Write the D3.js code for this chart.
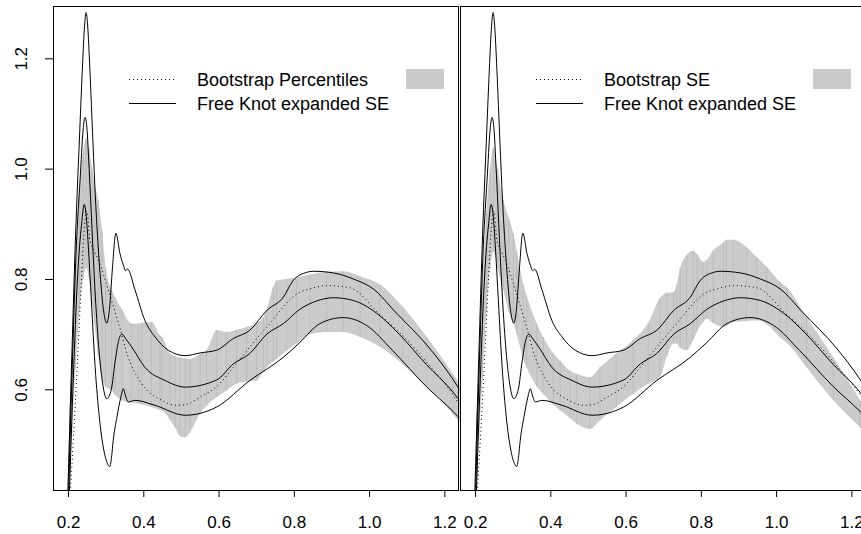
<!DOCTYPE html>
<html>
<head>
<meta charset="utf-8">
<script src="https://cdn.jsdelivr.net/npm/d3@7"></script>
<style>
  body { margin: 0; background: #fff; }
  svg { display: block; }
  text { font-family: "Liberation Sans", Arial, sans-serif; }
</style>
</head>
<body>
<svg id="chart" width="861" height="534"></svg>
<script>
// fitted curve (free knot) with +/- expanded SE, shared by both panels
const upX = [0.199, 0.21, 0.22, 0.23, 0.238, 0.244, 0.248, 0.252, 0.258, 0.266, 0.273, 0.28, 0.29, 0.298, 0.303, 0.31, 0.318, 0.327, 0.338, 0.347, 0.353, 0.358, 0.378, 0.404, 0.431, 0.466, 0.511, 0.551, 0.595, 0.639, 0.683, 0.728, 0.772, 0.798, 0.834, 0.851, 0.905, 0.958, 1.011, 1.07, 1.16, 1.223, 1.24];
const upY = [0.40, 0.66, 0.88, 1.05, 1.18, 1.26, 1.283, 1.26, 1.18, 1.05, 0.943, 0.86, 0.77, 0.728, 0.72, 0.745, 0.82, 0.883, 0.846, 0.825, 0.815, 0.818, 0.78, 0.725, 0.695, 0.671, 0.661, 0.666, 0.671, 0.692, 0.707, 0.743, 0.767, 0.797, 0.812, 0.814, 0.811, 0.80, 0.782, 0.74, 0.675, 0.618, 0.60];

const midX = [0.201, 0.212, 0.222, 0.232, 0.24, 0.245, 0.25, 0.256, 0.263, 0.27, 0.28, 0.29, 0.303, 0.315, 0.325, 0.335, 0.343, 0.355, 0.369, 0.404, 0.458, 0.511, 0.595, 0.639, 0.683, 0.728, 0.772, 0.816, 0.86, 0.905, 0.958, 1.02, 1.08, 1.152, 1.223, 1.24];
const midY = [0.40, 0.66, 0.86, 0.98, 1.07, 1.093, 1.075, 1.00, 0.90, 0.80, 0.69, 0.62, 0.583, 0.60, 0.65, 0.69, 0.70, 0.69, 0.677, 0.64, 0.616, 0.604, 0.617, 0.646, 0.665, 0.70, 0.719, 0.745, 0.76, 0.766, 0.761, 0.738, 0.70, 0.645, 0.595, 0.58];

const lowX = [0.203, 0.214, 0.225, 0.236, 0.243, 0.25, 0.254, 0.262, 0.272, 0.283, 0.295, 0.305, 0.311, 0.316, 0.32, 0.33, 0.34, 0.347, 0.352, 0.36, 0.378, 0.431, 0.511, 0.595, 0.683, 0.772, 0.816, 0.869, 0.931, 0.993, 1.063, 1.152, 1.223, 1.24];
const lowY = [0.40, 0.62, 0.80, 0.90, 0.935, 0.90, 0.858, 0.76, 0.64, 0.55, 0.49, 0.465, 0.46, 0.48, 0.507, 0.55, 0.585, 0.601, 0.59, 0.577, 0.58, 0.571, 0.553, 0.568, 0.616, 0.658, 0.685, 0.719, 0.73, 0.716, 0.67, 0.605, 0.56, 0.548];

// bootstrap estimate (dotted)
const bootX = [0.205, 0.215, 0.225, 0.235, 0.242, 0.25, 0.258, 0.27, 0.28, 0.307, 0.334, 0.36, 0.396, 0.449, 0.489, 0.511, 0.551, 0.595, 0.639, 0.728, 0.816, 0.843, 0.887, 0.949, 1.029, 1.10, 1.152, 1.223, 1.24];
const bootY = [0.40, 0.52, 0.65, 0.79, 0.88, 0.923, 0.87, 0.85, 0.835, 0.78, 0.72, 0.658, 0.61, 0.58, 0.571, 0.572, 0.586, 0.605, 0.64, 0.713, 0.776, 0.782, 0.788, 0.784, 0.735, 0.69, 0.65, 0.59, 0.572];

// bootstrap percentile band (left panel)
const pctX = [0.198, 0.205, 0.21, 0.22, 0.23, 0.24, 0.248, 0.256, 0.263, 0.27, 0.28, 0.29, 0.30, 0.316, 0.325, 0.343, 0.369, 0.387, 0.396, 0.422, 0.444, 0.449, 0.471, 0.485, 0.497, 0.511, 0.524, 0.551, 0.568, 0.595, 0.621, 0.648, 0.675, 0.701, 0.719, 0.728, 0.745, 0.754, 0.781, 0.807, 0.843, 0.887, 0.931, 0.976, 1.029, 1.09, 1.153, 1.223, 1.24];
const pctHi = [0.41, 0.57, 0.66, 0.84, 0.96, 1.03, 1.055, 1.035, 1.003, 0.975, 0.943, 0.89, 0.82, 0.78, 0.767, 0.745, 0.719, 0.719, 0.72, 0.722, 0.698, 0.695, 0.665, 0.66, 0.657, 0.656, 0.655, 0.664, 0.671, 0.707, 0.704, 0.708, 0.713, 0.72, 0.731, 0.745, 0.785, 0.797, 0.80, 0.803, 0.808, 0.813, 0.814, 0.805, 0.79, 0.749, 0.695, 0.628, 0.61];
const pctLo = [0.40, 0.45, 0.52, 0.64, 0.74, 0.80, 0.82, 0.80, 0.76, 0.72, 0.66, 0.62, 0.605, 0.598, 0.59, 0.58, 0.576, 0.574, 0.573, 0.568, 0.563, 0.562, 0.545, 0.53, 0.516, 0.513, 0.522, 0.556, 0.57, 0.586, 0.598, 0.61, 0.614, 0.616, 0.632, 0.64, 0.65, 0.655, 0.67, 0.683, 0.70, 0.704, 0.704, 0.695, 0.677, 0.645, 0.605, 0.555, 0.54];

// bootstrap SE band (right panel)
const seX = [0.198, 0.205, 0.21, 0.22, 0.23, 0.24, 0.249, 0.26, 0.275, 0.29, 0.302, 0.311, 0.328, 0.337, 0.364, 0.381, 0.408, 0.426, 0.452, 0.47, 0.505, 0.532, 0.575, 0.62, 0.66, 0.691, 0.71, 0.727, 0.736, 0.745, 0.762, 0.78, 0.79, 0.806, 0.816, 0.833, 0.86, 0.868, 0.886, 0.921, 0.948, 0.975, 1.01, 1.028, 1.081, 1.152, 1.223, 1.24];
const seHi = [0.41, 0.56, 0.64, 0.80, 0.92, 1.00, 1.039, 1.00, 0.943, 0.91, 0.882, 0.85, 0.791, 0.77, 0.719, 0.695, 0.665, 0.652, 0.634, 0.628, 0.622, 0.640, 0.665, 0.689, 0.72, 0.765, 0.775, 0.776, 0.79, 0.82, 0.843, 0.851, 0.845, 0.831, 0.835, 0.852, 0.866, 0.871, 0.871, 0.858, 0.84, 0.822, 0.795, 0.785, 0.731, 0.658, 0.58, 0.56];
const seLo = [0.40, 0.45, 0.51, 0.62, 0.74, 0.82, 0.85, 0.82, 0.78, 0.74, 0.72, 0.70, 0.655, 0.64, 0.605, 0.592, 0.572, 0.562, 0.548, 0.538, 0.528, 0.544, 0.568, 0.592, 0.61, 0.622, 0.66, 0.683, 0.683, 0.675, 0.671, 0.69, 0.705, 0.722, 0.728, 0.72, 0.713, 0.715, 0.722, 0.724, 0.725, 0.718, 0.695, 0.685, 0.64, 0.58, 0.531, 0.52];

const xTicks = [0.2, 0.4, 0.6, 0.8, 1.0, 1.2];
const yTicks = [0.6, 0.8, 1.0, 1.2];
const legendLabels = [
    ["Bootstrap Percentiles", "Free Knot expanded SE"],
    ["Bootstrap SE", "Free Knot expanded SE"],
];

const svg = d3.select("#chart");
const plotTop = 6;
const plotBottom = 490;
const panelW = 406.4;
const fontSize = 17;
const legendSize = 18;
const panels = [
    { left: 53, band: { x: pctX, lo: pctLo, hi: pctHi }, legend: legendLabels[0], yAxis: true },
    { left: 460, band: { x: seX, lo: seLo, hi: seHi }, legend: legendLabels[1], yAxis: false },
];

const y = d3.scaleLinear().domain([0.4175, 1.2948]).range([plotBottom, plotTop]);

const toPts = (xs, ys) => xs.map((d, i) => [d, ys[i]]);

panels.forEach((p, k) => {
    const x = d3.scaleLinear().domain([0.16, 1.24]).range([p.left, p.left + panelW]);
    const g = svg.append("g");

    const clipId = "clip" + k;
    svg.append("clipPath")
        .attr("id", clipId)
        .append("rect")
        .attr("x", p.left)
        .attr("y", plotTop)
        .attr("width", panelW)
        .attr("height", plotBottom - plotTop);

    const plot = g.append("g").attr("clip-path", `url(#${clipId})`);

    // grey band, then vertical streaks like the original segments
    const bandData = p.band.x.map((d, i) => ({ x: d, lo: p.band.lo[i], hi: p.band.hi[i] }));
    plot.append("path")
        .datum(bandData)
        .attr("fill", "#cbcbcb")
        .attr("d", d3.area()
            .x((d) => x(d.x))
            .y0((d) => y(d.lo))
            .y1((d) => y(d.hi))
            .curve(d3.curveMonotoneX));

    plot.append("g")
        .selectAll("line")
        .data(bandData)
        .join("line")
        .attr("x1", (d) => x(d.x))
        .attr("x2", (d) => x(d.x))
        .attr("y1", (d) => y(d.lo))
        .attr("y2", (d) => y(d.hi))
        .attr("stroke", "#bdbdbd")
        .attr("stroke-width", 1);

    const line = d3.line()
        .x((d) => x(d[0]))
        .y((d) => y(d[1]))
        .curve(d3.curveMonotoneX);

    [toPts(upX, upY), toPts(midX, midY), toPts(lowX, lowY)].forEach((pts) => {
        plot.append("path")
            .attr("d", line(pts))
            .attr("fill", "none")
            .attr("stroke", "#000")
            .attr("stroke-width", 1);
    });

    plot.append("path")
        .attr("d", line(toPts(bootX, bootY)))
        .attr("fill", "none")
        .attr("stroke", "#000")
        .attr("stroke-width", 1)
        .attr("stroke-dasharray", "1,3");

    // x axis
    const xAxis = g.append("g")
        .attr("transform", `translate(0,${plotBottom})`)
        .call(d3.axisBottom(x).tickValues(xTicks).tickSize(7).tickPadding(19).tickFormat(d3.format(".1f")));
    xAxis.select(".domain").remove();
    xAxis.selectAll("text").attr("font-size", fontSize).attr("font-family", "Liberation Sans, Arial, sans-serif").attr("fill", "#000");

    if (p.yAxis) {
        const yAxis = g.append("g")
            .attr("transform", `translate(${p.left},0)`)
            .call(d3.axisLeft(y).tickValues(yTicks).tickSize(8).tickFormat(d3.format(".1f")));
        yAxis.select(".domain").remove();
        yAxis.selectAll("text")
            .attr("x", null)
            .attr("dy", null)
            .attr("text-anchor", "middle")
            .attr("transform", "translate(-26,0) rotate(-90)")
            .attr("font-size", fontSize)
            .attr("font-family", "Liberation Sans, Arial, sans-serif")
            .attr("fill", "#000");
    }

    // legend
    const lx = p.left + 76;
    const lg = g.append("g");
    lg.append("line")
        .attr("x1", lx).attr("x2", lx + 47)
        .attr("y1", 79.5).attr("y2", 79.5)
        .attr("stroke", "#000")
        .attr("stroke-dasharray", "1,3");
    lg.append("line")
        .attr("x1", lx).attr("x2", lx + 47)
        .attr("y1", 103.5).attr("y2", 103.5)
        .attr("stroke", "#000");
    lg.selectAll("text")
        .data(p.legend)
        .join("text")
        .attr("x", lx + 68)
        .attr("y", (d, i) => 85.5 + i * 24)
        .attr("font-size", legendSize)
        .text((d) => d);
    lg.append("rect")
        .attr("x", p.left + 353)
        .attr("y", 69)
        .attr("width", 38)
        .attr("height", 20)
        .attr("fill", "#cbcbcb");

    // frame
    g.append("rect")
        .attr("x", p.left + 0.5)
        .attr("y", plotTop + 0.5)
        .attr("width", panelW - 1)
        .attr("height", plotBottom - plotTop)
        .attr("fill", "none")
        .attr("stroke", "#000")
        .attr("stroke-width", 1)
        .attr("shape-rendering", "crispEdges");
});
</script>
</body>
</html>
